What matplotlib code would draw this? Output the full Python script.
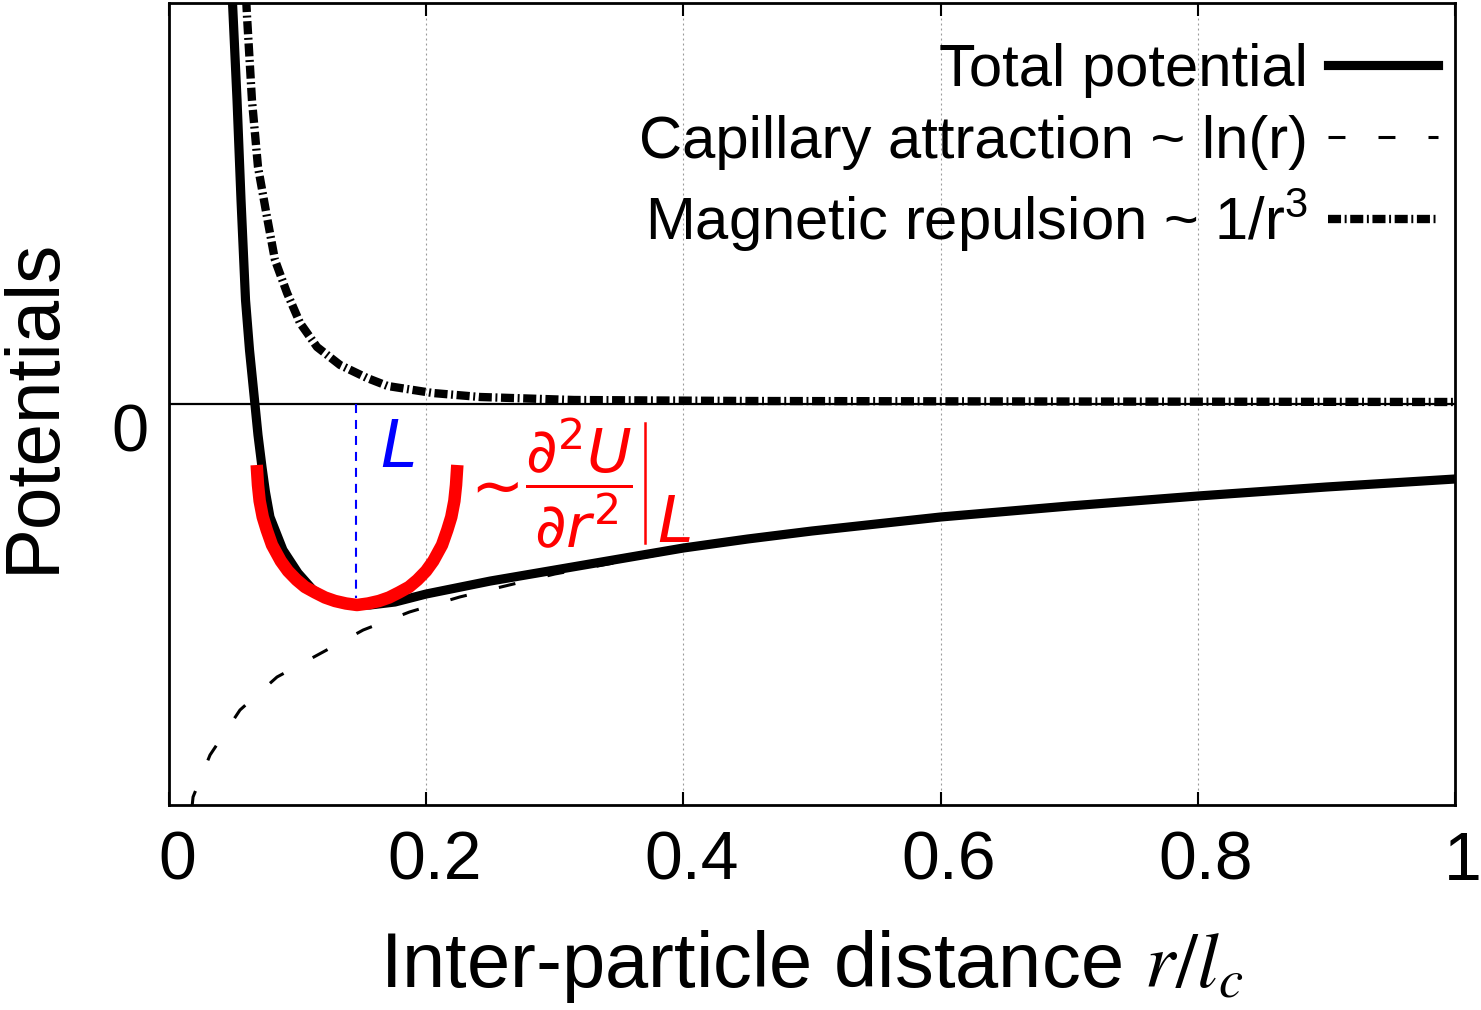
import matplotlib
matplotlib.use('Agg')

import matplotlib.pyplot as plt
from matplotlib.transforms import ScaledTranslation

plt.rcParams['font.family'] = ['Liberation Sans', 'DejaVu Sans']
plt.rcParams['mathtext.fontset'] = 'custom'
plt.rcParams['mathtext.rm'] = 'Liberation Sans'
plt.rcParams['mathtext.it'] = 'Liberation Sans:italic'
plt.rcParams['lines.scale_dashes'] = False

# values (y in arbitrary potential units, 0 = zero line)
total_x = [0.0485, 0.0494, 0.0529, 0.0560, 0.0595, 0.0626, 0.0665, 0.0692, 0.0723,
           0.0750, 0.0785, 0.0886, 0.1003, 0.1120, 0.1252, 0.1407, 0.1563, 0.1757,
           0.2000, 0.2500, 0.3000, 0.3500, 0.4000, 0.4500, 0.5000, 0.6000, 0.7000,
           0.8000, 0.9000, 1.0000]
total_y = [4.50, 4.01, 3.04, 2.04, 1.04, 0.54, 0.04, -0.31, -0.63,
           -0.88, -1.13, -1.46, -1.69, -1.86, -1.96, -2.01, -2.01, -1.98,
           -1.90, -1.77, -1.66, -1.55, -1.44, -1.35, -1.27, -1.13, -1.02,
           -0.92, -0.83, -0.75]

capillary_x = [0.0165, 0.0179, 0.0187, 0.0319, 0.0552, 0.0840, 0.1198, 0.1510, 0.1870,
               0.2260, 0.3000, 0.4000, 0.5000, 0.6000, 0.7000, 0.8000, 0.9000, 1.0000]
capillary_y = [-4.20, -4.03, -3.93, -3.51, -3.06, -2.73, -2.48, -2.26, -2.08,
               -1.93, -1.70, -1.46, -1.28, -1.14, -1.03, -0.93, -0.84, -0.76]

magnetic_x = [0.0590, 0.0607, 0.0645, 0.0692, 0.0762, 0.0824, 0.0918, 0.1019, 0.1151,
              0.1330, 0.1540, 0.1700, 0.2050, 0.2420, 0.3150, 0.4500, 0.7000, 1.0000]
magnetic_y = [4.30, 3.87, 3.04, 2.37, 1.87, 1.44, 1.11, 0.81, 0.57,
              0.39, 0.26, 0.18, 0.11, 0.07, 0.04, 0.03, 0.025, 0.02]

# harmonic approximation around the minimum (red U)
harmonic_x = [0.0682, 0.0692, 0.0705, 0.0729, 0.0760, 0.0801, 0.0869, 0.0925, 0.0993,
              0.1058, 0.1136, 0.1213, 0.1291, 0.1376, 0.1462, 0.1548, 0.1633, 0.1711,
              0.1788, 0.1866, 0.1931, 0.1999, 0.2055, 0.2123, 0.2164, 0.2195, 0.2219,
              0.2232, 0.2242]
harmonic_y = [-0.61, -0.81, -0.97, -1.13, -1.26, -1.41, -1.57, -1.67, -1.76,
              -1.83, -1.885, -1.935, -1.97, -1.995, -2.01, -1.995, -1.97, -1.935,
              -1.885, -1.83, -1.76, -1.67, -1.57, -1.41, -1.26, -1.13, -0.97,
              -0.81, -0.61]

L_pos = 0.1454
L_depth = -1.94

xticks = [0, 0.2, 0.4, 0.6, 0.8, 1.0]
xtick_labels = ['0', '0.2', '0.4', '0.6', '0.8', '1']

fig = plt.figure(figsize=(14.81, 10.10), dpi=100)
ax = fig.add_axes([169 / 1481, 205 / 1010, 1286 / 1481, 802 / 1010])

ax.set_xlim(0, 1)
ax.set_ylim(-4.01, 4.01)

# dotted vertical grid
for gx in xticks[1:-1]:
    ax.axvline(gx, color='#9a9a9a', lw=0.8, linestyle=(0, (1.4, 2.2)), zorder=0)

ax.axhline(0, color='black', lw=1.6, zorder=1)

ax.plot(magnetic_x, magnetic_y, color='black', lw=6.0,
        linestyle=(0, (9.4, 2.6, 1.4, 2.6)), zorder=3,
        label=r'Magnetic repulsion ~ 1/r$^3$')
ax.plot(capillary_x, capillary_y, color='black', lw=2.2,
        linestyle=(24, (12.2, 23.8)), zorder=2,
        label='Capillary attraction ~ ln(r)')
ax.plot(total_x, total_y, color='black', lw=6.6, solid_joinstyle='round',
        zorder=4, label='Total potential')
ax.plot(harmonic_x, harmonic_y, color='#ff0000', lw=9, solid_joinstyle='round',
        solid_capstyle='butt', zorder=5)
ax.plot([L_pos, L_pos], [0, L_depth], color='blue', lw=1.5,
        linestyle=(0, (6.5, 5.0)), zorder=6)

ax.text(0.1640, -0.63, 'L', color='blue', fontsize=47, family='DejaVu Sans',
        style='italic', ha='left', va='baseline')

ax.text(0.2485, -0.84, r'$\sim$', color='#ff0000', fontsize=46,
        math_fontfamily='dejavusans', ha='center', va='center')
ax.text(0.3190, -0.79, r'$\dfrac{\partial^2 U}{\partial r^2}$', color='#ff0000',
        fontsize=44, math_fontfamily='dejavusans', ha='center', va='center')
ax.plot([0.370, 0.370], [-0.19, -1.39], color='#ff0000', lw=1.8)
ax.text(0.3795, -1.38, 'L', color='#ff0000', fontsize=46, family='DejaVu Sans',
        style='italic', ha='left', va='baseline')

# legend: labels on the left, line samples on the right
handles, labels = ax.get_legend_handles_labels()
order = [2, 1, 0]
leg = ax.legend([handles[i] for i in order], [labels[i] for i in order],
                loc='upper right', bbox_to_anchor=((1438 - 169) / 1286, 0.950),
                frameon=False, markerfirst=False, fontsize=43,
                handlelength=1.85, handletextpad=0.33, labelspacing=0.28,
                borderpad=0, borderaxespad=0)
leg.get_lines()[1].set_linestyle((0, (12.2, 23.8)))

ax.set_xticks(xticks)
ax.set_xticklabels(xtick_labels)
ax.set_yticks([])
ax.tick_params(axis='x', direction='in', length=9.5, width=1.5, top=True,
               labelsize=49, pad=18)
shift = ScaledTranslation(8 / 100, 0, fig.dpi_scale_trans)
for lab in ax.get_xticklabels():
    lab.set_transform(lab.get_transform() + shift)
for s in ax.spines.values():
    s.set_linewidth(2.0)

ax.annotate('0', xy=(0, 0), xytext=(-21, -31), textcoords='offset pixels',
            ha='right', va='center', fontsize=48)

ax.set_xlabel(r'Inter-particle distance $r/l_c$', fontsize=56, math_fontfamily='stix')
ax.xaxis.set_label_coords(0.5, -0.153)
ax.set_ylabel('Potentials', fontsize=55)
ax.yaxis.set_label_coords(-0.0775, 0.4988)

plt.savefig('out.png', dpi=100)
plt.close()
